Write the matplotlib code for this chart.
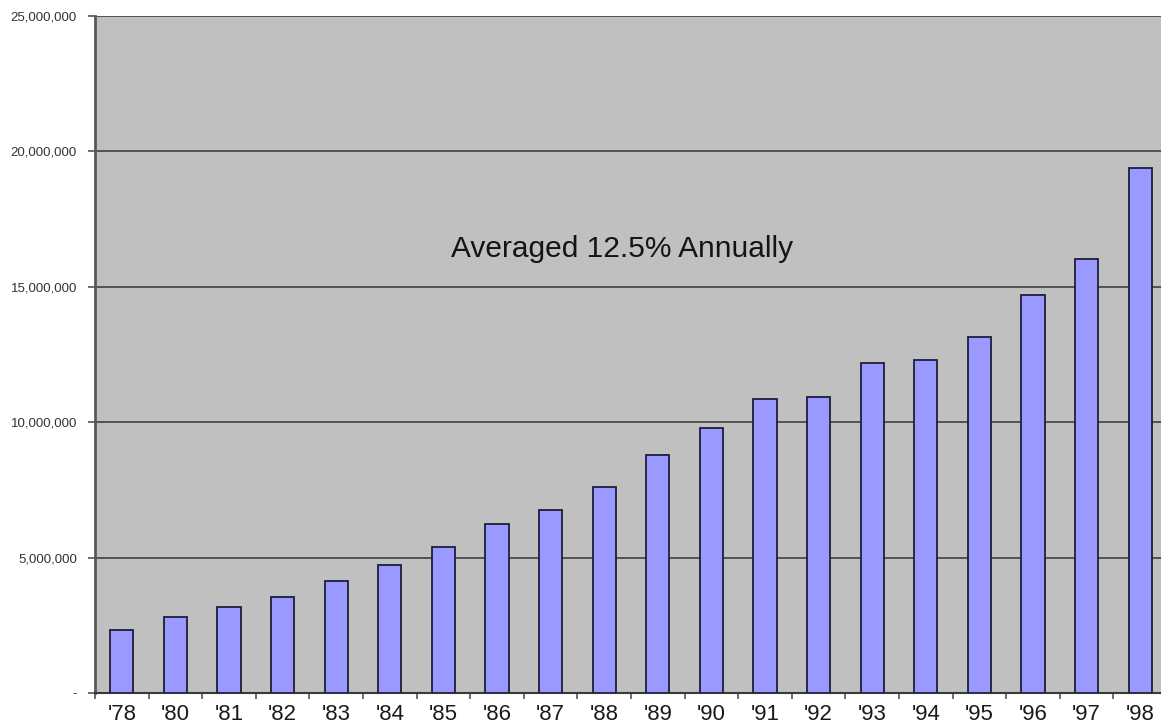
import matplotlib.pyplot as plt
import numpy as np
from matplotlib.ticker import FuncFormatter, FixedLocator

# annual totals, in millions
years = ["'78", "'80", "'81", "'82", "'83", "'84", "'85", "'86", "'87", "'88",
         "'89", "'90", "'91", "'92", "'93", "'94", "'95", "'96", "'97", "'98"]
totals_m = [2.32, 2.79, 3.16, 3.53, 4.12, 4.73, 5.40, 6.24, 6.75, 7.59,
            8.78, 9.80, 10.85, 10.93, 12.19, 12.29, 13.13, 14.71, 16.04, 19.40]
y_ticks = [0, 5_000_000, 10_000_000, 15_000_000, 20_000_000, 25_000_000]
note = "Averaged 12.5% Annually"

totals = np.array(totals_m) * 1_000_000

fig = plt.figure(figsize=(11.61, 7.25), dpi=100)
ax = fig.add_axes([95 / 1161, 32 / 725, 1072 / 1161, 677 / 725])
ax.set_facecolor('#c0c0c0')

x = np.arange(len(years))
ax.bar(x, totals, width=0.43, color='#9999ff', edgecolor='#1e1e3c',
       linewidth=1.3, zorder=3)

ax.set_xlim(-0.5, len(years) - 0.5)
ax.set_ylim(0, 25_000_000)

# horizontal gridlines
ax.set_yticks(y_ticks)
ax.yaxis.grid(True, color='#4a4a4a', linewidth=1.3, zorder=1)
ax.set_axisbelow(True)


def money(v, pos):
    if v == 0:
        return '-'
    return f'{int(v):,}'


ax.yaxis.set_major_formatter(FuncFormatter(money))
ax.tick_params(axis='y', which='major', length=5, width=1.2, color='#555555',
               labelcolor='#333333', pad=8)
for lab in ax.get_yticklabels():
    lab.set_family(['Liberation Sans Narrow', 'Liberation Sans', 'DejaVu Sans'])
    lab.set_fontsize(9.5)
    lab.set_stretch('condensed')

# category labels at bar centers, small tick marks at category boundaries
ax.set_xticks(x)
ax.set_xticklabels(years, fontsize=16, color='#1a1a1a',
                   family=['Liberation Sans', 'DejaVu Sans'])
ax.tick_params(axis='x', which='major', length=0, pad=8)
ax.xaxis.set_minor_locator(FixedLocator(np.arange(-0.5, len(years), 1.0)))
ax.tick_params(axis='x', which='minor', length=4, width=1.2, color='#555555')

for side in ['top', 'right']:
    ax.spines[side].set_visible(False)
ax.spines['left'].set_color('#5a5a5a')
ax.spines['left'].set_linewidth(2)
ax.spines['bottom'].set_color('#3a3a3a')
ax.spines['bottom'].set_linewidth(1.5)

ax.text(0.4916, 0.656, note, transform=ax.transAxes, ha='center', va='center',
        fontsize=21.5, color='#141414', family=['Liberation Sans', 'DejaVu Sans'])

fig.savefig('out.png', dpi=100)
